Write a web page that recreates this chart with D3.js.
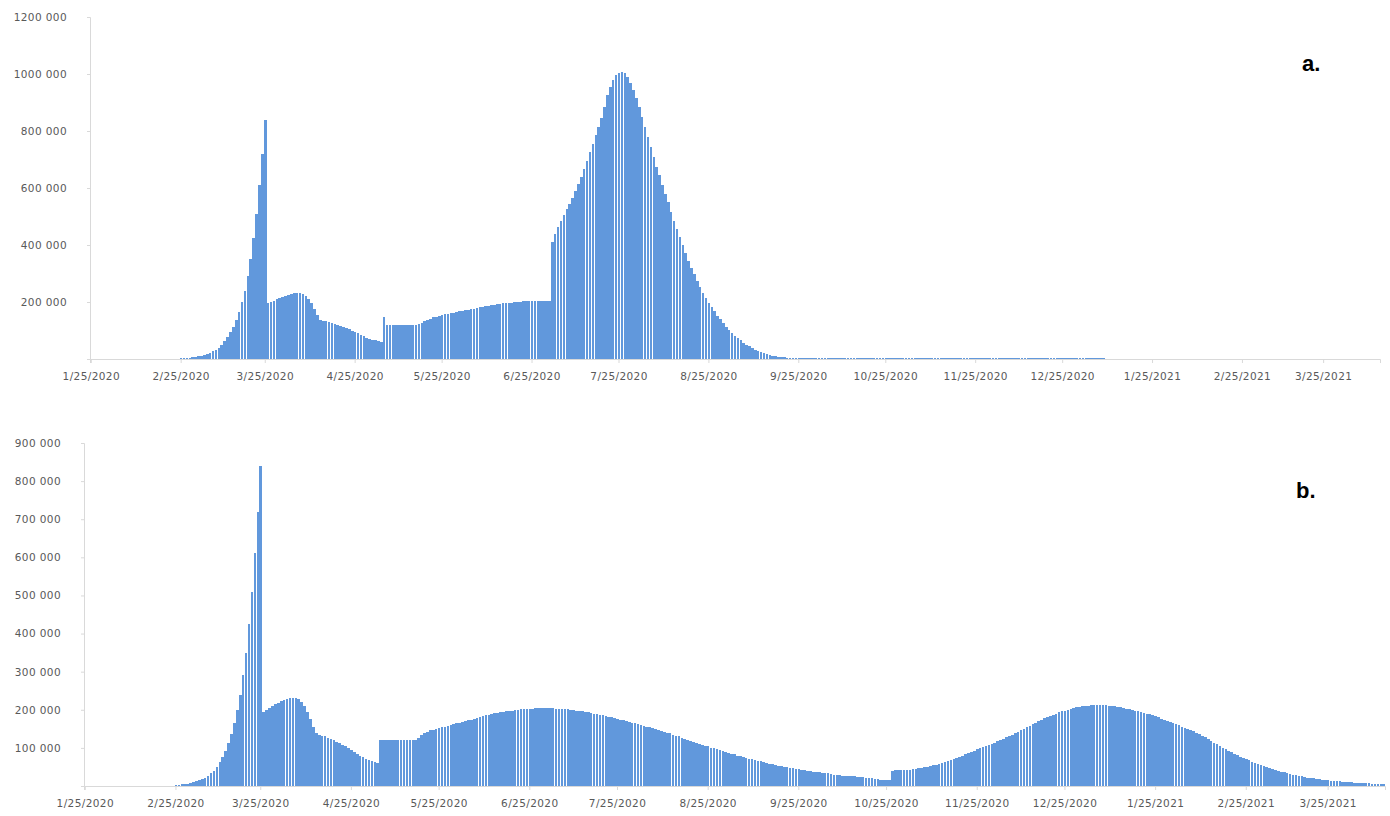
<!DOCTYPE html>
<html>
<head>
<meta charset="utf-8">
<script src="https://cdn.jsdelivr.net/npm/d3@7/dist/d3.min.js"></script>
<style>
  html, body { margin: 0; padding: 0; background: #ffffff; }
  svg { display: block; }
  text { font-family: "DejaVu Sans", "Liberation Sans", sans-serif; }
</style>
</head>
<body>
<svg id="chart" width="1390" height="816"></svg>
<script>
// ---- DATA (daily values, in thousands) ----
const startDate = "2020-01-25";
const endDate = "2021-04-14"; // exclusive, 445 days

// Panel a. (daily values, thousands)
const seriesA = [
  0,0,0,0,0,0,0,0,0,0,
  0,0,0,0,0,0,0,0,0,0,
  0,0,0,0,0,0,0,0,0,1,
  1,2,3,4,5,6,8,10,12,15,
  18,22,27,33,40,50,62,76,93,113,
  137,165,200,240,290,350,425,510,612,720,
  840,195,200,205,210,214,218,222,225,228,
  230,231,230,227,220,210,195,175,155,138,
  135,132,130,127,124,120,116,112,108,104,
  99,95,90,85,80,75,71,68,65,63,
  60,148,120,120,120,120,120,120,120,120,
  120,120,120,123,128,133,138,142,146,149,
  152,155,157,159,161,163,165,167,169,171,
  173,175,177,179,181,183,185,187,189,191,
  192,194,195,196,197,198,199,200,201,202,
  202,203,203,204,204,204,205,205,205,410,
  440,462,485,505,525,545,565,590,615,640,
  668,695,725,755,785,815,845,885,925,955,
  980,995,1005,1008,1003,990,970,945,915,885,
  850,815,780,745,710,675,645,612,580,550,
  515,485,455,428,400,372,345,320,297,275,
  253,233,215,198,182,167,152,139,126,114,
  103,92,82,73,65,57,50,44,38,33,
  28,24,20,17,14,12,10,8,7,6,
  5,5,4,4,3,3,3,2,2,2,
  2,2,2,2,2,2,2,2,2,2,
  2,2,2,2,2,2,2,2,2,2,
  2,2,2,2,2,2,2,2,2,2,
  2,2,2,2,2,2,2,2,2,2,
  2,2,2,2,2,2,2,2,2,2,
  2,2,2,2,2,2,2,2,2,2,
  2,2,2,2,2,2,2,2,2,2,
  2,2,2,2,2,2,2,2,2,2,
  2,2,2,2,2,2,2,2,2,2,
  2,2,2,2,2,2,2,2,2,2,
  0,0,0,0,0,0,0,0,0,0,
  0,0,0,0,0,0,0,0,0,0,
  0,0,0,0,0,0,0,0,0,0,
  0,0,0,0,0,0,0,0,0,0,
  0,0,0,0,0,0,0,0,0,0,
  0,0,0,0,0,0,0,0,0,0,
  0,0,0,0,0,0,0,0,0,0,
  0,0,0,0,0,0,0,0,0,0,
  0,0,0,0,0,0,0,0,0,0,
  0,0,0,0,0
];

// Panel b. (daily values, thousands)
const seriesB = [
  0,0,0,0,0,0,0,0,0,0,
  0,0,0,0,0,0,0,0,0,0,
  0,0,0,0,0,0,0,0,0,1,
  1,2,3,4,5,6,8,10,12,15,
  18,22,27,33,40,50,62,76,93,113,
  137,165,200,240,290,350,425,510,612,720,
  840,195,200,205,210,214,218,222,225,228,
  230,231,230,227,220,210,195,175,155,138,
  135,132,130,127,124,120,116,112,108,104,
  99,95,90,85,80,75,71,68,65,63,
  60,120,120,120,120,120,120,120,120,120,
  120,120,120,122,127,133,139,143,146,148,
  150,152,154,156,158,160,162,164,166,168,
  170,172,174,176,178,181,183,185,187,189,
  191,192,194,195,196,197,198,199,200,201,
  202,202,203,203,204,204,204,204,204,204,
  204,203,203,202,202,201,200,199,198,197,
  196,194,193,192,190,189,187,186,184,182,
  180,178,176,174,172,170,168,166,164,162,
  160,158,156,154,152,150,147,145,143,140,
  138,135,132,130,127,124,121,118,115,112,
  110,108,106,104,101,99,97,95,92,90,
  87,85,83,80,78,76,73,71,70,68,
  66,65,63,61,59,57,55,53,52,50,
  49,47,46,45,44,43,42,40,39,38,
  37,36,35,34,33,31,30,29,28,27,
  26,26,25,25,24,24,23,22,21,20,
  19,18,17,16,16,15,40,41,41,42,
  42,43,43,44,45,46,47,49,50,52,
  54,56,58,61,63,66,68,71,74,77,
  80,83,86,89,92,96,99,102,105,108,
  111,114,117,121,124,128,131,135,139,143,
  146,150,154,158,162,166,170,174,178,181,
  184,187,190,193,196,198,200,202,204,206,
  207,209,210,211,212,213,213,213,213,212,
  211,210,209,208,206,205,203,201,199,198,
  196,194,192,190,188,186,183,180,177,174,
  171,168,165,162,159,156,153,150,147,144,
  140,136,132,128,124,119,114,109,105,101,
  97,93,89,85,81,77,74,70,67,64,
  61,58,55,52,49,47,45,42,40,38,
  36,34,32,30,28,26,25,24,22,21,
  20,19,18,17,16,15,14,13,13,12,
  11,11,10,10,9,9,8,8,7,7,
  6,6,6,5,5
];

// x tick labels (monthly)
const xTickLabels = ["1/25/2020","2/25/2020","3/25/2020","4/25/2020","5/25/2020","6/25/2020",
  "7/25/2020","8/25/2020","9/25/2020","10/25/2020","11/25/2020","12/25/2020",
  "1/25/2021","2/25/2021","3/25/2021"];

// y ticks (thousands) and their labels
const yTicksA = [200, 400, 600, 800, 1000, 1200];
const yLabelsA = ["200 000","400 000","600 000","800 000","1000 000","1200 000"];
const yTicksB = [100, 200, 300, 400, 500, 600, 700, 800, 900];
const yLabelsB = ["100 000","200 000","300 000","400 000","500 000","600 000","700 000","800 000","900 000"];

// ---- DRAWING ----
const svg = d3.select("#chart");
const parseISO = d3.utcParse("%Y-%m-%d");
const parseLabel = d3.utcParse("%m/%d/%Y");
const days = d3.utcDay.range(parseISO(startDate), parseISO(endDate));
const keyOf = d3.utcFormat("%Y-%m-%d");
const dayKeys = days.map(keyOf);

function drawPanel(cfg) {
  const g = svg.append("g");
  const x = d3.scaleBand().domain(dayKeys).range([cfg.left, cfg.right]).paddingInner(0.12).paddingOuter(0);
  const y = d3.scaleLinear().domain([0, cfg.yMax]).range([cfg.bottom, cfg.top]);

  // bars
  g.append("g")
    .attr("shape-rendering", "crispEdges")
    .selectAll("rect")
    .data(cfg.values.map((v, i) => ({k: dayKeys[i], v})))
    .join("rect")
    .attr("x", d => x(d.k))
    .attr("width", x.bandwidth())
    .attr("y", d => y(d.v))
    .attr("height", d => cfg.bottom - y(d.v))
    .attr("fill", "#6198dc");

  // y axis
  const yAxis = d3.axisLeft(y)
    .tickValues(cfg.yTicks)
    .tickFormat((d, i) => cfg.yLabels[i])
    .tickSize(3)
    .tickPadding(20);
  const ya = g.append("g").attr("transform", `translate(${cfg.left},0)`).call(yAxis);
  ya.select(".domain").attr("stroke", "#d9d9d9");
  ya.selectAll(".tick line").attr("stroke", "#d9d9d9");
  ya.selectAll(".tick text")
    .attr("fill", "#595959")
    .style("font-size", "10.5px")
    .style("letter-spacing", "0.4px");

  // x axis
  const xAxis = d3.axisBottom(x)
    .tickValues(xTickLabels.map(l => keyOf(parseLabel(l))))
    .tickFormat((d, i) => xTickLabels[i])
    .tickSize(4)
    .tickPadding(10);
  const xa = g.append("g").attr("transform", `translate(0,${cfg.bottom})`).call(xAxis);
  xa.select(".domain").attr("stroke", "#d9d9d9");
  xa.selectAll(".tick line").attr("stroke", "#d9d9d9");
  xa.selectAll(".tick text")
    .attr("fill", "#595959")
    .style("font-size", "10.5px")
    .style("letter-spacing", "0.4px");

  // panel tag
  g.append("text")
    .attr("x", cfg.tagX).attr("y", cfg.tagY)
    .attr("fill", "#000")
    .style("font-family", "'Liberation Sans', Arial, sans-serif")
    .style("font-weight", "bold")
    .style("font-size", "22px")
    .text(cfg.tag);
}

drawPanel({values: seriesA, left: 90, right: 1380, top: 17, bottom: 359, yMax: 1200,
  yTicks: yTicksA, yLabels: yLabelsA, tag: "a.", tagX: 1302, tagY: 71});
drawPanel({values: seriesB, left: 84, right: 1385, top: 443, bottom: 786, yMax: 900,
  yTicks: yTicksB, yLabels: yLabelsB, tag: "b.", tagX: 1296, tagY: 498});
</script>
</body>
</html>
